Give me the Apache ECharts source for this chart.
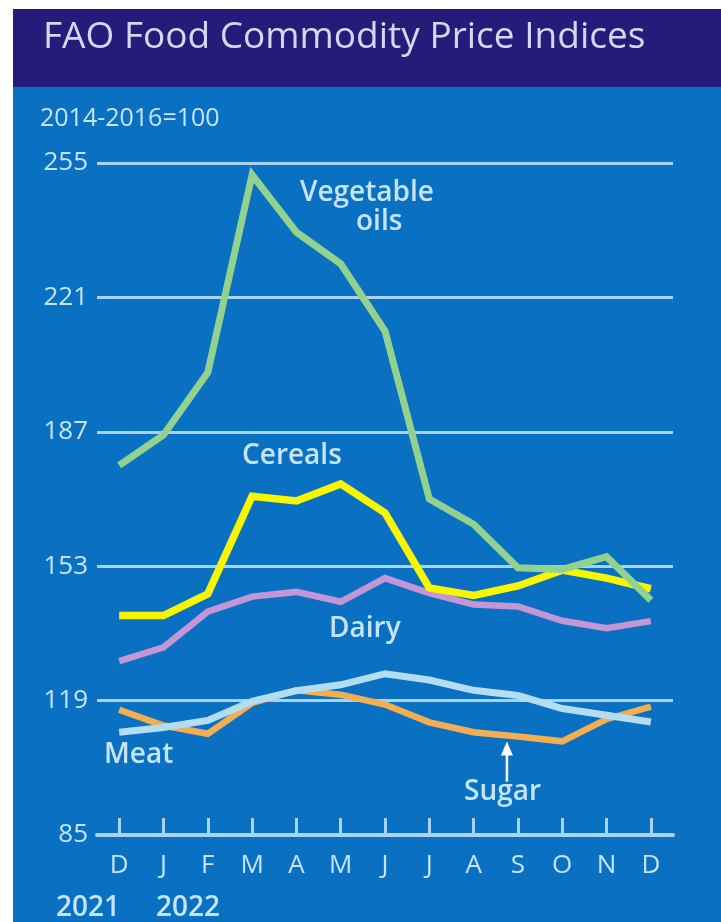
<!DOCTYPE html>
<html>
<head>
<meta charset="utf-8">
<script src="https://cdn.jsdelivr.net/npm/echarts@6/dist/echarts.min.js"></script>
<style>
html,body{margin:0;padding:0;background:#fff;}
#chart{width:721px;height:922px;}
</style>
</head>
<body>
<div id="chart"></div>
<script>
// ---- data ----
const categories = ['Dec 2021','Jan 2022','Feb 2022','Mar 2022','Apr 2022','May 2022','Jun 2022','Jul 2022','Aug 2022','Sep 2022','Oct 2022','Nov 2022','Dec 2022'];
const monthLabels = ['D','J','F','M','A','M','J','J','A','S','O','N','D'];
const yTicks = [85, 119, 153, 187, 221, 255];
const vegOils = [178.5, 186.2, 202.0, 252.0, 237.5, 229.5, 212.5, 170.0, 163.6, 152.6, 152.2, 155.4, 144.4];
const cereals = [140.5, 140.5, 146.0, 170.7, 169.5, 173.8, 166.5, 147.5, 145.6, 148.0, 152.0, 150.0, 147.3];
const dairy   = [129.0, 132.5, 141.5, 145.3, 146.5, 144.0, 150.0, 146.2, 143.3, 142.8, 139.2, 137.3, 139.1];
const meat    = [111.0, 112.2, 114.0, 118.8, 121.5, 123.0, 125.8, 124.2, 121.6, 120.3, 117.0, 115.3, 113.6];
const sugar   = [116.7, 112.7, 110.6, 118.4, 121.6, 120.5, 118.0, 113.5, 111.0, 109.9, 108.7, 114.3, 117.5];

const FONT = '"Open Sans", "Noto Sans", sans-serif';
const LIGHT = '#c6e4fa';
const GRID = '#a9d3f4';

const chart = echarts.init(document.getElementById('chart'), null, {renderer: 'canvas'});

function lineSeries(name, data, color, width, z) {
  return {
    name, type: 'line', data, showSymbol: false, symbol: 'none', z,
    lineStyle: {color, width, join: 'miter', cap: 'butt'},
    emphasis: {disabled: true}, silent: true, animation: false
  };
}

const option = {
  backgroundColor: '#ffffff',
  animation: false,
  grid: {left: 97, right: 48, top: 163, bottom: 87, containLabel: false},
  xAxis: {
    type: 'category', data: categories, boundaryGap: true,
    axisLine: {show: true, lineStyle: {color: GRID, width: 4}},
    axisTick: {show: true, inside: true, alignWithLabel: true, length: 17, lineStyle: {color: GRID, width: 3}},
    axisLabel: {
      color: LIGHT, fontFamily: FONT, fontSize: 26, fontWeight: 500, margin: 18,
      formatter: (v, i) => monthLabels[i]
    },
    splitLine: {show: false}
  },
  yAxis: {
    type: 'value', min: 85, max: 255,
    axisLine: {show: false},
    axisTick: {show: false, customValues: yTicks},
    axisLabel: {color: LIGHT, fontFamily: FONT, fontSize: 26, fontWeight: 500, margin: 9, customValues: yTicks},
    splitLine: {show: true, lineStyle: {color: GRID, width: 3}}
  },
  graphic: [
    {type: 'rect', z: -10, shape: {x: 13, y: 9, width: 708, height: 913}, style: {fill: '#0a70c1'}},
    {type: 'rect', z: -9, shape: {x: 13, y: 9, width: 708, height: 78}, style: {fill: '#241c78'}},
    {type: 'text', left: 43, top: 19, style: {text: 'FAO Food Commodity Price Indices', fill: '#d6d6f2', font: '500 37px ' + FONT}},
    {type: 'text', left: 40, top: 106, style: {text: '2014-2016=100', fill: LIGHT, font: '500 25px ' + FONT}},
    {type: 'text', left: 300, top: 179, style: {text: 'Vegetable', fill: LIGHT, font: '600 28px ' + FONT}},
    {type: 'text', left: 356, top: 208, style: {text: 'oils', fill: LIGHT, font: '600 28px ' + FONT}},
    {type: 'text', left: 242, top: 442, style: {text: 'Cereals', fill: LIGHT, font: '600 28px ' + FONT}},
    {type: 'text', left: 329, top: 615, style: {text: 'Dairy', fill: LIGHT, font: '600 28px ' + FONT}},
    {type: 'text', left: 104, top: 741, style: {text: 'Meat', fill: LIGHT, font: '600 28px ' + FONT}},
    {type: 'text', left: 464, top: 778, style: {text: 'Sugar', fill: LIGHT, font: '600 28px ' + FONT}},
    {type: 'text', left: 56, top: 894, style: {text: '2021', fill: LIGHT, font: '600 28px ' + FONT}},
    {type: 'text', left: 156, top: 894, style: {text: '2022', fill: LIGHT, font: '600 28px ' + FONT}}
  ],
  series: [
    lineSeries('Sugar', sugar, '#f4ae52', 6.5, 2),
    lineSeries('Meat', meat, '#b3ddf2', 7, 3),
    lineSeries('Dairy', dairy, '#c496d6', 6.5, 4),
    lineSeries('Cereals', cereals, '#f7f500', 7.5, 5),
    lineSeries('Vegetable oils', vegOils, '#93d18f', 7, 6)
  ]
};
chart.setOption(option);

// arrow pointing at the sugar line (September)
const p = chart.convertToPixel({xAxisIndex: 0, yAxisIndex: 0}, [categories[9], sugar[9]]);
const tipY = p[1] + 5;
chart.setOption({
  graphic: option.graphic.concat([
    {type: 'line', shape: {x1: p[0] - 11, y1: tipY + 10, x2: p[0] - 11, y2: tipY + 40}, style: {stroke: '#ffffff', lineWidth: 2.5}},
    {type: 'polygon', shape: {points: [[p[0] - 11, tipY], [p[0] - 17, tipY + 14], [p[0] - 5, tipY + 14]]}, style: {fill: '#ffffff'}}
  ])
});
</script>
</body>
</html>
